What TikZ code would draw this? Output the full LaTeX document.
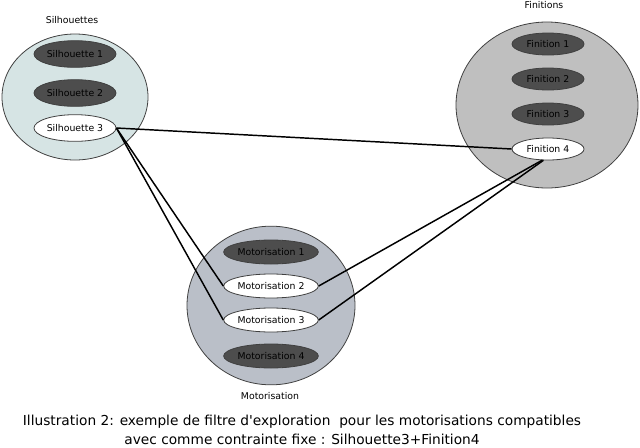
\documentclass[tikz,border=0pt]{standalone}
\usepackage{fontspec}
\setmainfont{DejaVu Sans}
\usetikzlibrary{shapes.geometric}

\definecolor{silgroup}{RGB}{214,228,228}
\definecolor{fingroup}{RGB}{191,191,191}
\definecolor{motgroup}{RGB}{186,191,200}
\definecolor{itemdark}{RGB}{77,77,77}

\tikzset{
  group/.style={ellipse, draw=black!75, line width=0.6pt, inner sep=0pt},
  item/.style={ellipse, draw=black!75, line width=0.6pt, fill=itemdark, inner sep=0pt,
    font=\fontsize{7}{8}\selectfont},
  picked/.style={item, fill=white},
  grouplabel/.style={font=\fontsize{7}{8}\selectfont},
  link/.style={line width=1.1pt}
}

\begin{document}
\begin{tikzpicture}[x=0.75pt,y=-0.75pt]

	\useasboundingbox (0,0) rectangle (640,447);

	% the three groups (coordinates are pixels of the original figure)
	\node[group, fill=silgroup, minimum width=109.5pt, minimum height=94.5pt] (sil) at (75,97) {};
	\node[group, fill=fingroup, minimum width=136.5pt, minimum height=124.5pt] (fin) at (547,105) {};
	\node[group, fill=motgroup, minimum width=126pt, minimum height=119pt] (mot) at (271,305.5) {};

	\node[grouplabel] (sillabel) at (72,20) {Silhouettes};
	\node[grouplabel] (finlabel) at (544,5) {Finitions};
	\node[grouplabel] (motlabel) at (270,396) {Motorisation};

	% silhouettes
	\foreach \i/\y in {1/54,2/93}
		\node[item, minimum width=61.5pt, minimum height=20pt] (sil\i) at (75,\y) {Silhouette \i};
	\node[picked, minimum width=61.5pt, minimum height=20pt] (sil3) at (75,128) {Silhouette 3};

	% finitions
	\foreach \i/\y in {1/44,2/79,3/114}
		\node[item, minimum width=54pt, minimum height=16.5pt] (fin\i) at (548,\y) {Finition \i};
	\node[picked, minimum width=54pt, minimum height=16.5pt] (fin4) at (548,149) {Finition 4};

	% motorisations
	\foreach \i/\y/\s in {1/252/item,2/286/picked,3/320/picked,4/356/item}
		\node[\s, minimum width=68pt, minimum height=18pt] (mot\i) at (271,\y) {Motorisation \i};

	% compatibility links
	\draw[link] (sil3.east) -- (fin4.west);
	\draw[link] (sil3.east) -- (mot2.west);
	\draw[link] (sil3.east) -- (mot3.west);
	\draw[link] (fin4.-118) -- (mot2.east);
	\draw[link] (fin4.-112) -- (mot3.east);

	\node[align=center, font=\fontsize{10.3}{14}\selectfont] (caption) at (302,430)
		{Illustration 2: exemple de filtre d\textquotesingle exploration\ \ pour les motorisations compatibles\\
		 avec comme contrainte fixe : Silhouette3+Finition4};

\end{tikzpicture}
\end{document}
